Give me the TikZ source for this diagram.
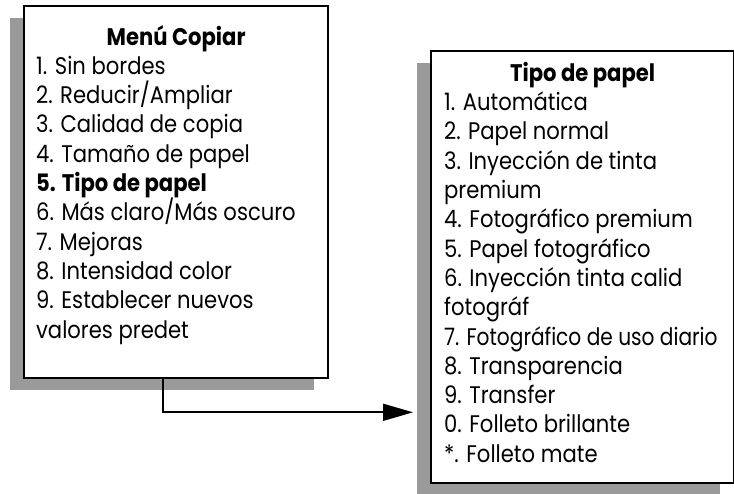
\documentclass[tikz,border=0pt]{standalone}
\usepackage{fontspec}
\setmainfont{Poppins}[FakeStretch=0.88]
\newfontfamily\narrowfont{Poppins}[FakeStretch=0.84]
\usetikzlibrary{positioning,arrows.meta,shadows}
\definecolor{shadowgray}{HTML}{9A9A9A}
\begin{document}
\begin{tikzpicture}[
  font=\fontsize{24}{29.3}\selectfont,
  menu/.style={draw, line width=2.3pt, fill=white, anchor=north west, inner xsep=12pt, inner ysep=0pt,
    drop shadow={shadow xshift=-14pt, shadow yshift=-12pt, fill=shadowgray, opacity=1}},
  arr/.style={-{Triangle[length=30pt,width=17pt]}, line width=1.7pt}
]
\useasboundingbox (0,0) rectangle (734pt,-494pt);
\node[menu] (copiar) at (23pt,-5pt) {\begin{minipage}[c][372pt][t]{280pt}
  \raggedright\hyphenpenalty=10000
  \vspace*{19pt}
  {\centering\bfseries Menú Copiar\par}
  1. Sin bordes\\
  2. Reducir/Ampliar\\
  3. Calidad de copia\\
  4. Tamaño de papel\\
  \textbf{5. Tipo de papel}\\
  6. Más claro/Más oscuro\\
  7. Mejoras\\
  8. Intensidad color\\
  9. Establecer nuevos\\
  valores predet
\end{minipage}};
\node[menu, inner xsep=13pt] (papel) at (430pt,-50pt) {\begin{minipage}[c][432pt][t]{277pt}
  \raggedright\hyphenpenalty=10000
  \vspace*{11pt}
  {\centering\bfseries Tipo de papel\par}
  1. Automática\\
  2. Papel normal\\
  3. Inyección de tinta\\
  premium\\
  4. Fotográfico premium\\
  5. Papel fotográfico\\
  6. Inyección tinta calid\\
  fotográf\\
  \mbox{\narrowfont 7. Fotográfico de uso diario}\\
  8. Transparencia\\
  9. Transfer\\
  0. Folleto brillante\\
  {*}. Folleto mate
\end{minipage}};
\draw[arr] ([xshift=140pt]copiar.south west) |- ([xshift=-17pt,yshift=72pt]papel.south west);
\end{tikzpicture}
\end{document}
